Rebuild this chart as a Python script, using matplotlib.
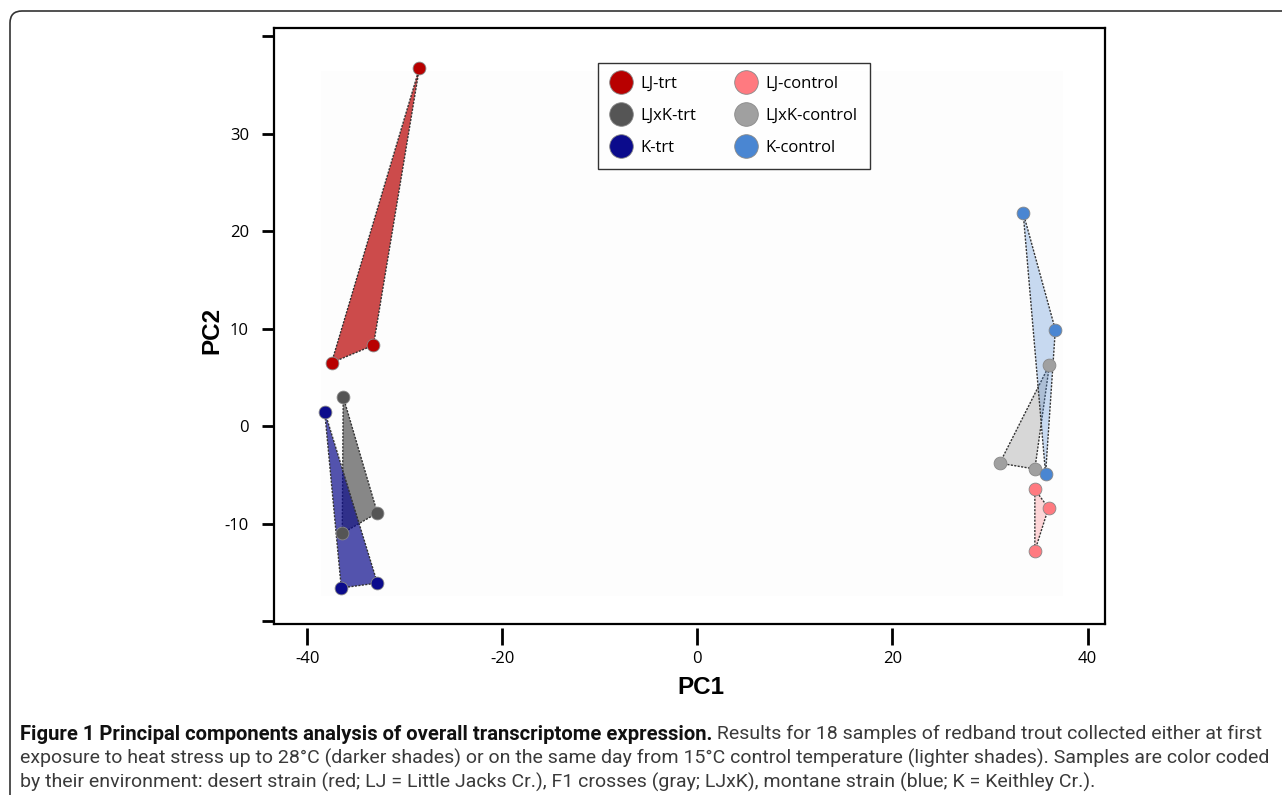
import matplotlib
matplotlib.use("Agg")
import matplotlib.pyplot as plt
from matplotlib.patches import Polygon, FancyBboxPatch, Rectangle
from matplotlib.lines import Line2D

# PCA scores (PC1, PC2) per group
groups = ["LJ-trt", "LJxK-trt", "K-trt", "LJ-control", "LJxK-control", "K-control"]
pc1 = {
    "LJ-trt": [-28.5, -37.5, -33.2],
    "LJxK-trt": [-36.3, -32.8, -36.4],
    "K-trt": [-38.2, -36.5, -32.8],
    "LJ-control": [34.6, 36.0, 34.6],
    "LJxK-control": [36.1, 31.0, 34.6],
    "K-control": [33.4, 36.7, 35.7],
}
pc2 = {
    "LJ-trt": [36.7, 6.5, 8.3],
    "LJxK-trt": [3.0, -8.9, -11.0],
    "K-trt": [1.5, -16.6, -16.1],
    "LJ-control": [-6.5, -8.4, -12.8],
    "LJxK-control": [6.3, -3.8, -4.4],
    "K-control": [21.9, 9.9, -4.9],
}
colors = {
    "LJ-trt": "#b80000",
    "LJxK-trt": "#555555",
    "K-trt": "#0b0b8c",
    "LJ-control": "#ff7a80",
    "LJxK-control": "#a0a0a0",
    "K-control": "#4a86d2",
}
fill_alpha = {
    "LJ-trt": 0.7, "LJxK-trt": 0.7, "K-trt": 0.7,
    "LJ-control": 0.3, "LJxK-control": 0.4, "K-control": 0.3,
}
xticks = [-40, -20, 0, 20, 40]
yticks = [-20, -10, 0, 10, 20, 30, 40]
ylabels = ["", "-10", "0", "10", "20", "30", ""]

caption_bold = "Figure 1 Principal components analysis of overall transcriptome expression."
caption_lines = [
    " Results for 18 samples of redband trout collected either at first",
    "exposure to heat stress up to 28\u00b0C (darker shades) or on the same day from 15\u00b0C control temperature (lighter shades). Samples are color coded",
    "by their environment: desert strain (red; LJ = Little Jacks Cr.), F1 crosses (gray; LJxK), montane strain (blue; K = Keithley Cr.).",
]

tick_font = ["Open Sans", "DejaVu Sans"]
cap_font = ["Roboto", "DejaVu Sans"]

fig = plt.figure(figsize=(12.82, 7.95), dpi=100)
ax = fig.add_axes([0.2137, 0.2151, 0.6483, 0.7491])

# outer rounded frame of the figure panel (inches)
fig.patches.append(FancyBboxPatch((0.10, -0.5), 13.5, 7.95 - 0.11 + 0.5,
                                  boxstyle="round,pad=0,rounding_size=0.12",
                                  transform=fig.dpi_scale_trans, fill=False,
                                  edgecolor="#333333", lw=1.2))

# faint plotting background
ax.add_patch(Rectangle((0.056, 0.047), 0.893, 0.882, transform=ax.transAxes,
                       facecolor="#fdfdfd", edgecolor="none", zorder=0))

for g in groups:
    xs, ys = pc1[g], pc2[g]
    ax.add_patch(Polygon(list(zip(xs, ys)), closed=True, facecolor=colors[g],
                         alpha=fill_alpha[g], edgecolor="none", zorder=2))
    ax.add_patch(Polygon(list(zip(xs, ys)), closed=True, fill=False,
                         edgecolor="#333333", lw=1.0, ls=(0, (1.5, 1)), zorder=2))
    ax.scatter(xs, ys, s=85, color=colors[g], edgecolor="#888888",
               linewidth=0.6, zorder=3)

ax.set_xlim(-43.4, 41.8)
ax.set_ylim(-20.3, 40.8)

for sp in ax.spines.values():
    sp.set_linewidth(1.6)
    sp.set_color("black")

ax.set_yticks(yticks)
ax.set_yticklabels(ylabels, fontfamily=tick_font, fontsize=12)
ax.tick_params(axis="y", direction="out", length=9, width=2, pad=9)
ax.tick_params(axis="x", bottom=False, labelbottom=False)

sec = ax.secondary_xaxis(-0.006)
sec.spines["bottom"].set_visible(False)
sec.set_xticks(xticks)
sec.set_xticklabels([str(v) for v in xticks], fontfamily=tick_font, fontsize=12)
sec.tick_params(axis="x", direction="out", length=12, width=2, pad=5)

fig.text(0.5468, 1 - 688 / 795, "PC1", ha="center", va="center",
         fontfamily="Liberation Sans", fontweight="bold", fontsize=17.5)
fig.text(212 / 1282, 1 - 330 / 795, "PC2", ha="center", va="center", rotation=90,
         fontfamily="Liberation Sans", fontweight="bold", fontsize=17.5)

handles = [Line2D([], [], ls="", marker="o", markersize=17, markerfacecolor=colors[g],
                  markeredgecolor="#888888", markeredgewidth=0.6) for g in groups]
leg = ax.legend(handles, groups, ncol=2, loc="upper left",
                bbox_to_anchor=(0.380, 0.9557), frameon=True, fancybox=False,
                prop={"family": tick_font, "size": 12}, handletextpad=0.55,
                columnspacing=2.4, labelspacing=0.95, borderpad=0.78,
                handlelength=1.2)
leg.get_frame().set_edgecolor("black")
leg.get_frame().set_linewidth(1.0)

# caption: bold lead-in followed by regular text
fig.canvas.draw()
renderer = fig.canvas.get_renderer()
x0 = 20 / 1282
ys_cap = [1 - 734 / 795, 1 - 758 / 795, 1 - 782 / 795]
tb = fig.text(x0, ys_cap[0], caption_bold, ha="left", va="center",
              fontfamily=cap_font, fontweight="bold", fontsize=14.6, color="#111111")
bb = tb.get_window_extent(renderer)
fig.text(bb.x1 / fig.bbox.width, ys_cap[0], caption_lines[0], ha="left", va="center",
         fontfamily=cap_font, fontsize=14.0, color="#3a3a3a")
for line, yy in zip(caption_lines[1:], ys_cap[1:]):
    fig.text(x0, yy, line, ha="left", va="center", fontfamily=cap_font,
             fontsize=14.0, color="#3a3a3a")

fig.savefig("out.png", dpi=100, facecolor="white")
